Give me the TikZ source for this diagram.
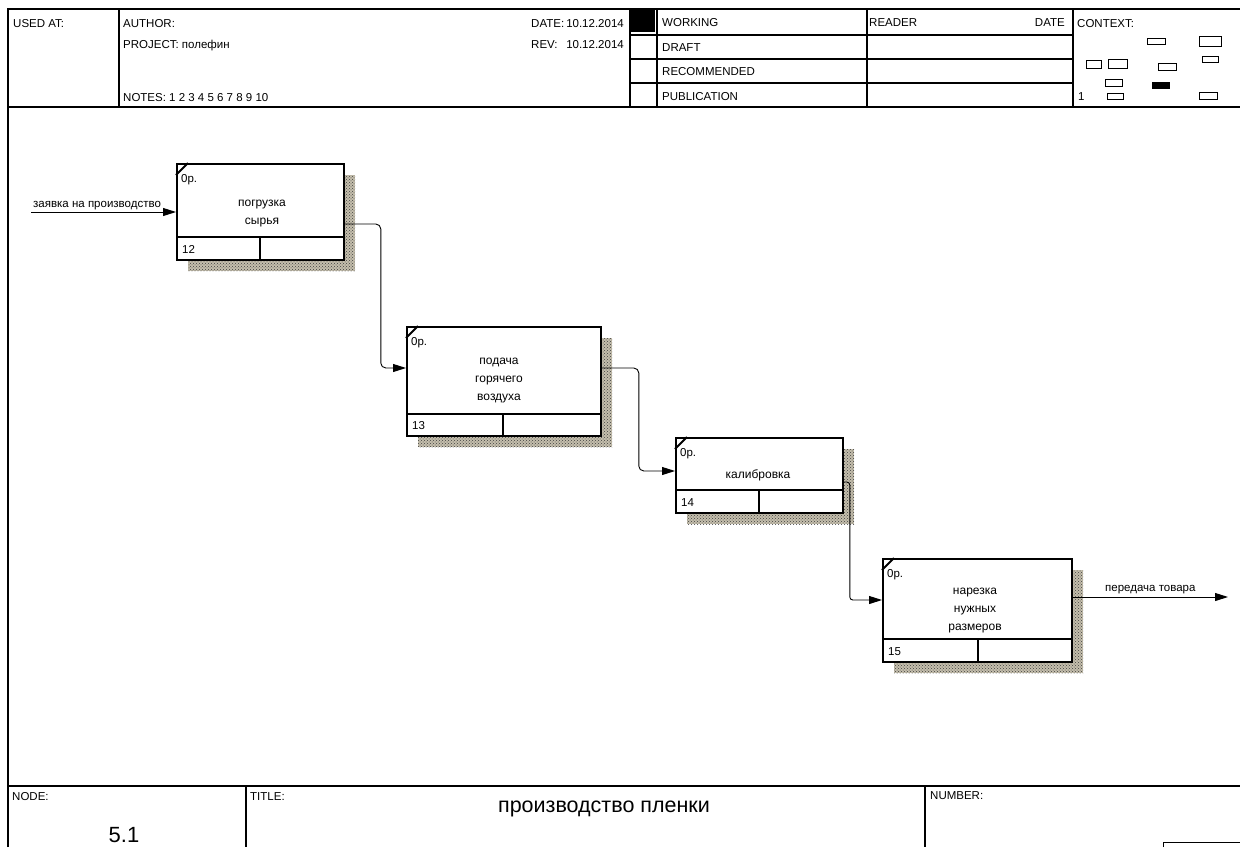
\documentclass[tikz,border=0pt]{standalone}
\usepackage{fontspec}
\setmainfont{Liberation Sans}
\usetikzlibrary{arrows.meta,patterns,calc}
\newcommand{\ActBox}[8]{%
  % #1 name, #2 x0, #3 y0, #4 x1, #5 y1, #6 strip y, #7 divider x, #8 number
  \fill[shadowfill] (#2+12,#3+12) rectangle (#4+12,#5+12);
  \node[actbox, minimum width={(#4-#2)*1pt}, minimum height={(#5-#3)*1pt}] (#1) at (#2,#3) {};
  \draw[boxline] (#2,#6) -- (#4,#6);
  \draw[boxline] (#7,#6) -- (#7,#5);
  \draw[boxline] (#2,#3+12) -- (#2+12,#3);
  \node[lbl] (#1op) at (#2+5,#3+19) {0р.};
  \node[lbl] (#1num) at (#2+6,#5-6) {#8};
}
\begin{document}
\begin{tikzpicture}[x=1pt,y=-1pt,
  frame/.style={line width=1.2pt},
  lbl/.style={anchor=base west, inner sep=0pt, font=\fontsize{11.5}{13}\selectfont},
  btxt/.style={align=center, inner sep=0pt, font=\fontsize{12}{18}\selectfont},
  actbox/.style={draw, line width=1.8pt, fill=white, anchor=north west, inner sep=0pt},
  boxline/.style={line width=1.8pt},
  shadowfill/.style={fill={rgb,255:red,196;green,190;blue,172}, postaction={pattern=crosshatch dots, pattern color=black!75}},
  conn/.style={line width=0.9pt, -{Triangle[length=13pt,width=8pt]}, rounded corners=5pt},
  ctx/.style={line width=0.8pt}
]
\useasboundingbox (0,0) rectangle (1240,847);
\fill[white] (0,0) rectangle (1240,847);

% ---------- frame ----------
\draw[frame] (8,847) -- (8,9) -- (1240,9);
\draw[frame] (8,107) -- (1240,107);
\draw[frame] (8,786) -- (1240,786);
\draw[frame] (119,9) -- (119,107);
\draw[frame] (630,9) -- (630,107);
\draw[frame] (657,9) -- (657,107);
\draw[frame] (867,9) -- (867,107);
\draw[frame] (1073,9) -- (1073,107);
\draw[frame] (630,35) -- (1073,35);
\draw[frame] (630,59) -- (1073,59);
\draw[frame] (630,83) -- (1073,83);
\fill (630,9) rectangle (655,32);
\draw[frame] (246,786) -- (246,847);
\draw[frame] (925,786) -- (925,847);
\draw[line width=0.8pt] (1163,847) -- (1163,842) -- (1240,842);

% ---------- header texts ----------
\node[lbl] (usedat) at (13,27) {USED AT:};
\node[lbl] (author) at (123,27) {AUTHOR:};
\node[lbl] (project) at (123,48) {PROJECT: полефин};
\node[lbl] (notes) at (123,101) {NOTES: 1 2 3 4 5 6 7 8 9 10};
\node[lbl] (datel) at (531,27) {DATE:};
\node[lbl, anchor=base east] (datev) at (624,27) {10.12.2014};
\node[lbl] (revl) at (531,48) {REV:};
\node[lbl, anchor=base east] (revv) at (624,48) {10.12.2014};
\node[lbl] (working) at (662,26) {WORKING};
\node[lbl] (draft) at (662,51) {DRAFT};
\node[lbl] (recommended) at (662,75) {RECOMMENDED};
\node[lbl] (publication) at (662,100) {PUBLICATION};
\node[lbl] (reader) at (869,26) {READER};
\node[lbl, anchor=base east] (rdate) at (1065,26) {DATE};
\node[lbl] (context) at (1077,27) {CONTEXT:};
\node[lbl] (ctxone) at (1078,100) {1};

% context thumbnails
\draw[ctx] (1147,38) rectangle (1165,44);
\draw[ctx] (1199,36) rectangle (1221,46);
\draw[ctx] (1086,60) rectangle (1101,68);
\draw[ctx] (1108,59) rectangle (1127,68);
\draw[ctx] (1158,63) rectangle (1176,70);
\draw[ctx] (1202,56) rectangle (1218,62);
\draw[ctx] (1105,79) rectangle (1122,86);
\fill (1152,82) rectangle (1170,89);
\draw[ctx] (1107,93) rectangle (1123,99);
\draw[ctx] (1199,92) rectangle (1217,99);

% ---------- footer ----------
\node[lbl] (nodel) at (12,800) {NODE:};
\node[anchor=base, inner sep=0pt, font=\fontsize{22}{24}\selectfont] (nodenum) at (124,842) {5.1};
\node[lbl] (titlel) at (250,800) {TITLE:};
\node[anchor=base, inner sep=0pt, font=\fontsize{21.5}{24}\selectfont] (title) at (604,812) {производство пленки};
\node[lbl] (numberl) at (930,799) {NUMBER:};

% ---------- activity boxes ----------
\ActBox{b1}{176}{163}{343}{259}{237}{260}{12}
\ActBox{b2}{406}{326}{600}{435}{414}{503}{13}
\ActBox{b3}{675}{437}{842}{512}{490}{759}{14}
\ActBox{b4}{882}{558}{1071}{661}{639}{978}{15}

\node[btxt] (t1) at (262,214) {погрузка\\сырья};
\node[btxt] (t2) at (499,381) {подача\\горячего\\воздуха};
\node[btxt] (t3) at (758,475) {калибровка};
\node[btxt] (t4) at (975,611) {нарезка\\нужных\\размеров};

% ---------- connectors ----------
\coordinate (in1) at (31,212);
\coordinate (b1o) at ($(b1.north east)+(0,61)$);
\coordinate (b2i) at ($(b2.north west)+(0,42)$);
\coordinate (b2o) at ($(b2.north east)+(0,42)$);
\coordinate (b3i) at ($(b3.north west)+(0,34)$);
\coordinate (b3o) at ($(b3.north east)+(0,45)$);
\coordinate (b4i) at ($(b4.north west)+(0,42)$);
\coordinate (b4o) at ($(b4.north east)+(0,39)$);
\coordinate (out4) at (1228,597);

\draw[conn] (in1) -- (in1 -| b1.west);
\draw[conn] (b1o) -- ++(36,0) |- (b2i);
\draw[conn] (b2o) -- ++(37,0) |- (b3i);
\draw[conn, rounded corners=3pt] (b3o) -- ++(6,0) |- (b4i);
\draw[conn] (b4o) -- (out4);

\node[lbl] (lin1) at (33,207) {заявка на производство};
\node[lbl] (lout4) at (1105,591) {передача товара};
\end{tikzpicture}
\end{document}
